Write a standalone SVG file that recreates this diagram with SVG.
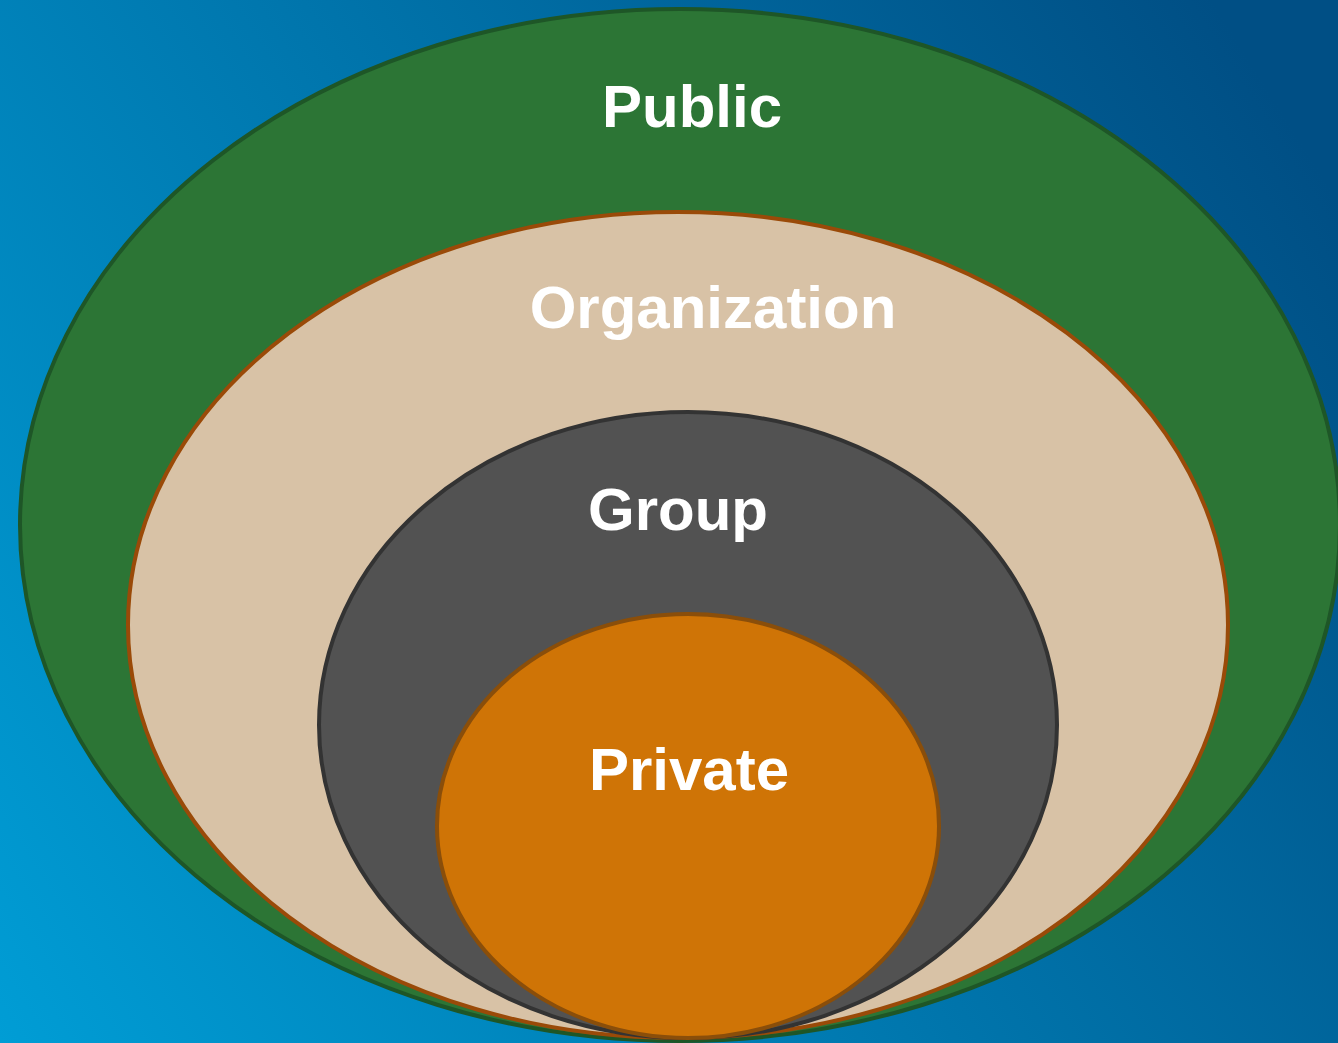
<svg xmlns="http://www.w3.org/2000/svg" width="1338" height="1043" viewBox="0 0 1338 1043">
  <defs>
    <linearGradient id="bg" gradientUnits="userSpaceOnUse" x1="0" y1="1043" x2="1338" y2="200">
      <stop offset="0" stop-color="#009dd5"/>
      <stop offset="1" stop-color="#004f85"/>
    </linearGradient>
  </defs>
  <style>
    .lbl { font-family: "Liberation Sans", Arial, sans-serif; font-weight: bold; font-size: 60px; fill: #ffffff; text-anchor: middle; }
    .ring { stroke-width: 4; }
  </style>
  <rect x="0" y="0" width="1338" height="1043" fill="url(#bg)"/>
  <g id="public">
    <ellipse class="ring" cx="680" cy="525" rx="660" ry="516" fill="#2c7535" stroke="#1e5627"/>
    <text class="lbl" x="692" y="127">Public</text>
  </g>
  <g id="organization">
    <ellipse class="ring" cx="678" cy="625" rx="550" ry="413" fill="#d8c2a6" stroke="#9a4a08"/>
    <text class="lbl" x="713" y="328">Organization</text>
  </g>
  <g id="group">
    <ellipse class="ring" cx="688" cy="725" rx="369" ry="313" fill="#525252" stroke="#333333"/>
    <text class="lbl" x="678" y="530">Group</text>
  </g>
  <g id="private">
    <ellipse class="ring" cx="688" cy="826" rx="251" ry="212" fill="#cf7406" stroke="#8a4e0a"/>
    <text class="lbl" x="689" y="790">Private</text>
  </g>
  <g id="connectors"/>
</svg>
